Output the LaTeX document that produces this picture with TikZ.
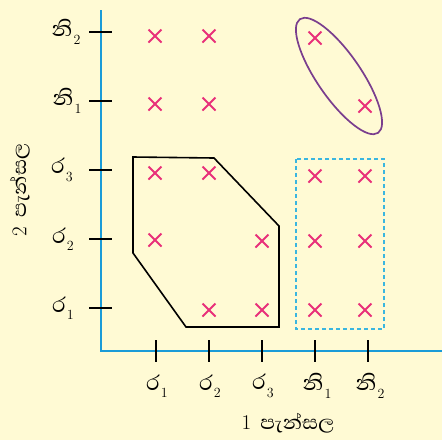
\documentclass[tikz,border=0pt]{standalone}
\usepackage{fontspec}
\newfontfamily\sinhala[Script=Sinhala]{Abhaya Libre}
\definecolor{bg}{HTML}{FFFAD4}
\definecolor{axis}{HTML}{1A9BD7}
\definecolor{crs}{HTML}{E8307A}
\definecolor{purp}{HTML}{7A3E8E}
\definecolor{dsh}{HTML}{3AB6E0}
\tikzset{
  axisline/.style={axis, line width=2.2pt},
  tickmark/.style={black, line width=2.6pt},
  lbl/.style={font=\fontsize{27}{27}\selectfont, inner sep=0pt},
  axlbl/.style={inner sep=0pt},
  crossmark/.style={crs, line width=1.8pt},
}
\newcommand{\xmark}[2]{\draw[crossmark] (#1-6.5,#2-6.5) -- (#1+6.5,#2+6.5) (#1-6.5,#2+6.5) -- (#1+6.5,#2-6.5);}
\newcommand{\subn}[1]{\rlap{\hspace{1.2pt}\raisebox{-7.5pt}{\rmfamily\fontsize{14}{14}\selectfont #1}}}
\newcommand{\axtitle}[1]{{\rmfamily\fontsize{21}{21}\selectfont #1}\hspace{9pt}{\sinhala\fontsize{25}{25}\selectfont පැන්සල}}
\begin{document}
\begin{tikzpicture}[x=1pt,y=-1pt]
\fill[bg] (0,0) rectangle (442,440);
\useasboundingbox (0,0) rectangle (442,440);
% axes
\coordinate (O) at (101,351);
\coordinate (Ytop) at (101,10);
\coordinate (Xend) at (442,351);
\draw[axisline] (Ytop) -- (O) -- (Xend);
% x ticks
\foreach \x in {156,209,262,315,368} \draw[tickmark] (\x,340) -- (\x,362);
% y ticks
\foreach \y in {32,101,170,239,308} \draw[tickmark] (89,\y) -- (112,\y);
% y labels
\node[lbl] (yl5) at (62,32) {\sinhala නි\subn{2}};
\node[lbl] (yl4) at (63,101) {\sinhala නි\subn{1}};
\node[lbl] (yl3) at (58,170) {\sinhala ර\subn{3}};
\node[lbl] (yl2) at (59,239) {\sinhala ර\subn{2}};
\node[lbl] (yl1) at (59,308) {\sinhala ර\subn{1}};
% x labels
\node[lbl] (xl1) at (153,386) {\sinhala ර\subn{1}};
\node[lbl] (xl2) at (206,386) {\sinhala ර\subn{2}};
\node[lbl] (xl3) at (259,386) {\sinhala ර\subn{3}};
\node[lbl] (xl4) at (313,386) {\sinhala නි\subn{1}};
\node[lbl] (xl5) at (366,386) {\sinhala නි\subn{2}};
% axis titles
\node[axlbl] (xt) at (288,423) {\axtitle{1}};
\node[axlbl, rotate=90] (yt) at (20,190) {\axtitle{2}};
% crosses
\xmark{155}{36}\xmark{209}{36}\xmark{315}{38}
\xmark{155}{104}\xmark{209}{104}\xmark{365}{106}
\xmark{155}{173}\xmark{209}{173}\xmark{315}{176}\xmark{365}{176}
\xmark{155}{240}\xmark{262}{241}\xmark{315}{241}\xmark{365}{241}
\xmark{209}{310}\xmark{262}{310}\xmark{315}{310}\xmark{365}{310}
% polygon
\draw[black, line width=1.6pt, line join=miter] (133,157) -- (214,158) -- (279,226) -- (279,327) -- (186,327) -- (133,253) -- cycle;
% dashed rectangle
\draw[dsh, line width=1.5pt, dash pattern=on 4pt off 3pt] (296,159) rectangle (384,329);
% ellipse
\draw[purp, line width=1.7pt, rotate around={-55.5:(339,76)}] (339,76) ellipse [x radius=69, y radius=22];
\end{tikzpicture}
\end{document}
